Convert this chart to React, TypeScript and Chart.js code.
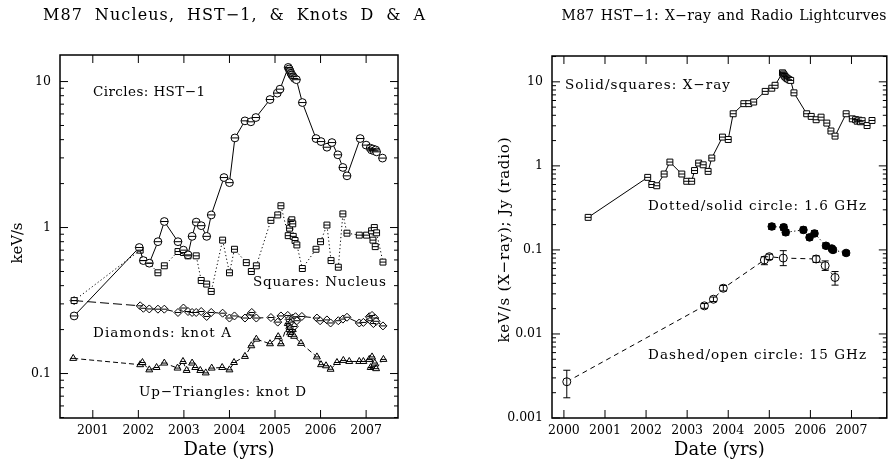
import React, { useEffect, useRef } from "react";
import { Chart, registerables } from "chart.js";

Chart.register(...registerables);

const FONT = "'DejaVu Serif', serif";

// ---------------- Left panel data ----------------
const hstYears = [2000.59, 2002.02, 2002.11, 2002.24, 2002.43, 2002.57, 2002.87, 2002.99, 2003.09, 2003.18, 2003.27, 2003.38, 2003.5, 2003.6, 2003.88, 2004.0, 2004.12, 2004.34, 2004.47, 2004.58, 2004.89, 2005.05, 2005.11, 2005.29, 2005.31, 2005.33, 2005.35, 2005.37, 2005.4, 2005.43, 2005.47, 2005.6, 2005.9, 2006.01, 2006.14, 2006.25, 2006.38, 2006.49, 2006.58, 2006.87, 2007.0, 2007.09, 2007.12, 2007.15, 2007.18, 2007.21, 2007.23, 2007.36];
const hstFlux = [0.248, 0.73, 0.594, 0.57, 0.8, 1.1, 0.8, 0.7, 0.65, 0.87, 1.09, 1.03, 0.87, 1.22, 2.2, 2.03, 4.11, 5.38, 5.3, 5.67, 7.53, 8.33, 8.87, 12.5, 12.2, 11.8, 11.4, 11.1, 10.8, 10.5, 10.3, 7.18, 4.07, 3.88, 3.55, 3.82, 3.15, 2.58, 2.26, 4.07, 3.67, 3.5, 3.4, 3.45, 3.35, 3.4, 3.3, 2.99];

const nucYears = [2000.59, 2002.04, 2002.11, 2002.24, 2002.43, 2002.57, 2002.87, 2002.99, 2003.09, 2003.27, 2003.38, 2003.5, 2003.6, 2003.85, 2004.0, 2004.11, 2004.37, 2004.48, 2004.59, 2004.91, 2005.06, 2005.13, 2005.29, 2005.32, 2005.35, 2005.37, 2005.39, 2005.4, 2005.44, 2005.48, 2005.6, 2005.9, 2006.0, 2006.14, 2006.23, 2006.39, 2006.49, 2006.58, 2006.85, 2007.01, 2007.12, 2007.15, 2007.18, 2007.2, 2007.23, 2007.37];
const nucFlux = [0.316, 0.7, 0.594, 0.57, 0.49, 0.547, 0.685, 0.674, 0.64, 0.64, 0.434, 0.41, 0.365, 0.82, 0.49, 0.71, 0.575, 0.5, 0.547, 1.12, 1.22, 1.41, 0.88, 0.99, 1.1, 1.13, 1.06, 0.87, 0.815, 0.76, 0.524, 0.71, 0.8, 1.04, 0.594, 0.535, 1.24, 0.915, 0.887, 0.887, 0.95, 0.82, 1.0, 0.74, 0.92, 0.58];

const knotAYears = [2000.59, 2002.04, 2002.11, 2002.24, 2002.43, 2002.57, 2002.87, 2002.99, 2003.09, 2003.18, 2003.27, 2003.38, 2003.5, 2003.6, 2003.85, 2004.0, 2004.11, 2004.34, 2004.45, 2004.49, 2004.59, 2004.91, 2005.06, 2005.13, 2005.28, 2005.31, 2005.33, 2005.35, 2005.37, 2005.39, 2005.42, 2005.45, 2005.48, 2005.59, 2005.92, 2005.99, 2006.14, 2006.22, 2006.39, 2006.49, 2006.58, 2006.85, 2006.94, 2007.07, 2007.1, 2007.13, 2007.16, 2007.19, 2007.22, 2007.37];
const knotAFlux = [0.316, 0.291, 0.28, 0.277, 0.276, 0.276, 0.262, 0.281, 0.266, 0.262, 0.262, 0.266, 0.246, 0.262, 0.259, 0.24, 0.248, 0.24, 0.252, 0.262, 0.24, 0.242, 0.225, 0.248, 0.25, 0.235, 0.215, 0.205, 0.225, 0.24, 0.21, 0.245, 0.23, 0.246, 0.24, 0.23, 0.233, 0.222, 0.23, 0.236, 0.243, 0.222, 0.224, 0.245, 0.23, 0.25, 0.22, 0.24, 0.228, 0.212];

const knotDYears = [2000.57, 2002.04, 2002.09, 2002.24, 2002.4, 2002.57, 2002.86, 2002.98, 2003.06, 2003.18, 2003.25, 2003.36, 2003.48, 2003.61, 2003.84, 2004.0, 2004.1, 2004.34, 2004.48, 2004.59, 2004.89, 2005.07, 2005.13, 2005.28, 2005.31, 2005.33, 2005.36, 2005.39, 2005.42, 2005.57, 2005.92, 2006.01, 2006.12, 2006.22, 2006.36, 2006.5, 2006.63, 2006.85, 2006.94, 2007.07, 2007.1, 2007.13, 2007.16, 2007.19, 2007.22, 2007.38];
const knotDFlux = [0.127, 0.115, 0.119, 0.106, 0.11, 0.118, 0.109, 0.121, 0.105, 0.118, 0.11, 0.105, 0.101, 0.109, 0.11, 0.106, 0.119, 0.131, 0.155, 0.172, 0.16, 0.179, 0.16, 0.22, 0.2, 0.19, 0.185, 0.2, 0.18, 0.161, 0.13, 0.115, 0.113, 0.107, 0.119, 0.123, 0.121, 0.121, 0.121, 0.125, 0.11, 0.13, 0.112, 0.118, 0.108, 0.125];

const leftYearTicks = [2001, 2002, 2003, 2004, 2005, 2006, 2007];
const leftDecadeTicks = [0.1, 1, 10];

// ---------------- Right panel data ----------------
const xrayYears = [2000.59, 2002.04, 2002.14, 2002.26, 2002.44, 2002.58, 2002.87, 2002.99, 2003.11, 2003.18, 2003.28, 2003.39, 2003.51, 2003.6, 2003.86, 2004.0, 2004.12, 2004.38, 2004.5, 2004.62, 2004.9, 2005.06, 2005.14, 2005.32, 2005.34, 2005.36, 2005.38, 2005.41, 2005.44, 2005.48, 2005.52, 2005.6, 2005.91, 2006.02, 2006.14, 2006.26, 2006.4, 2006.5, 2006.6, 2006.87, 2007.02, 2007.1, 2007.14, 2007.18, 2007.22, 2007.26, 2007.38, 2007.5];
const xrayFlux = [0.244, 0.73, 0.6, 0.58, 0.8, 1.11, 0.8, 0.656, 0.656, 0.88, 1.08, 1.03, 0.86, 1.24, 2.2, 2.06, 4.17, 5.5, 5.5, 5.75, 7.7, 8.4, 9.1, 12.8, 12.4, 12.0, 11.6, 11.2, 10.9, 10.6, 10.4, 7.4, 4.17, 3.88, 3.54, 3.8, 3.23, 2.6, 2.26, 4.17, 3.63, 3.55, 3.4, 3.5, 3.35, 3.45, 3.02, 3.47];

const r16Years = [2005.06, 2005.35, 2005.4, 2005.83, 2005.98, 2006.1, 2006.38, 2006.52, 2006.55, 2006.87];
const r16Flux = [0.19, 0.186, 0.162, 0.173, 0.141, 0.157, 0.112, 0.104, 0.1, 0.092];
const r16Low = [0.175, 0.171, 0.15, 0.16, 0.131, 0.145, 0.104, 0.097, 0.093, 0.086];
const r16High = [0.205, 0.201, 0.175, 0.187, 0.152, 0.17, 0.12, 0.111, 0.107, 0.098];

const r15Years = [2000.07, 2003.42, 2003.64, 2003.88, 2004.88, 2005.0, 2005.34, 2006.14, 2006.36, 2006.6];
const r15Flux = [0.0027, 0.0216, 0.0259, 0.035, 0.0759, 0.083, 0.08, 0.078, 0.065, 0.047];
const r15Low = [0.00174, 0.0202, 0.0243, 0.0325, 0.0667, 0.077, 0.065, 0.071, 0.057, 0.0381];
const r15High = [0.0037, 0.023, 0.0275, 0.0378, 0.083, 0.089, 0.098, 0.085, 0.074, 0.0553];

const rightYearTicks = [2000, 2001, 2002, 2003, 2004, 2005, 2006, 2007];
const rightDecadeTicks = [0.001, 0.01, 0.1, 1, 10];

// ---------------- helpers ----------------
const pts = (xs: number[], ys: number[]) => xs.map((x, i) => ({ x, y: ys[i] }));

type TextItem = {
  text: string; x: number; y: number; size: number; width: number;
  ls?: number; words?: boolean; align?: "left" | "center"; rotate?: boolean;
};

function drawSpaced(ctx: CanvasRenderingContext2D, t: TextItem) {
  ctx.save();
  ctx.font = `${t.size}px ${FONT}`;
  ctx.fillStyle = "#000";
  ctx.textBaseline = "middle";
  ctx.textAlign = "left";
  const anyCtx = ctx as any;
  const natural = ctx.measureText(t.text).width;
  const n = t.text.length;
  const spaces = (t.text.match(/ /g) || []).length;
  let total = natural;
  if ("letterSpacing" in anyCtx && n > 1) {
    if (t.words && spaces > 0 && "wordSpacing" in anyCtx) {
      const ls = t.ls || 0;
      anyCtx.letterSpacing = `${ls}px`;
      const ws = (t.width - natural - ls * (n - 1)) / spaces;
      anyCtx.wordSpacing = `${ws}px`;
    } else {
      anyCtx.letterSpacing = `${(t.width - natural) / (n - 1)}px`;
    }
    total = t.width;
  }
  if (t.rotate) {
    ctx.translate(t.x, t.y);
    ctx.rotate(-Math.PI / 2);
    ctx.fillText(t.text, -total / 2, 0);
  } else {
    const x0 = t.align === "center" ? t.x - total / 2 : t.x;
    ctx.fillText(t.text, x0, t.y);
  }
  ctx.restore();
}

const framePlugin = {
  id: "frameTicks",
  afterDraw(chart: any) {
    const { ctx, chartArea: a, scales } = chart;
    const xs = scales.x;
    const ys = scales.y;
    ctx.save();
    ctx.strokeStyle = "#000";
    ctx.lineWidth = 1;
    ctx.beginPath();
    for (const t of xs.ticks) {
      const px = xs.getPixelForValue(t.value);
      ctx.moveTo(px, a.bottom);
      ctx.lineTo(px, a.bottom - 8);
      ctx.moveTo(px, a.top);
      ctx.lineTo(px, a.top + 8);
    }
    const lo = Math.floor(Math.log10(ys.min));
    const hi = Math.ceil(Math.log10(ys.max));
    for (let d = lo; d <= hi; d++) {
      for (let m = 1; m <= 9; m++) {
        const v = m * Math.pow(10, d);
        if (v < ys.min * 0.9999 || v > ys.max * 1.0001) continue;
        const py = ys.getPixelForValue(v);
        const len = m === 1 ? 8 : 4;
        ctx.moveTo(a.left, py);
        ctx.lineTo(a.left + len, py);
        ctx.moveTo(a.right, py);
        ctx.lineTo(a.right - len, py);
      }
    }
    ctx.stroke();
    ctx.lineWidth = 1.5;
    ctx.strokeRect(a.left, a.top, a.right - a.left, a.bottom - a.top);
    ctx.restore();
  },
};

const markPlugin = {
  id: "errMarks",
  afterDatasetsDraw(chart: any) {
    const ys = chart.scales.y;
    const ctx = chart.ctx;
    chart.data.datasets.forEach((ds: any, i: number) => {
      const meta = chart.getDatasetMeta(i);
      ctx.save();
      ctx.strokeStyle = "#000";
      ctx.lineWidth = 1;
      ctx.setLineDash([]);
      ctx.beginPath();
      meta.data.forEach((el: any, j: number) => {
        if (ds.midHalf) {
          ctx.moveTo(el.x - ds.midHalf, el.y);
          ctx.lineTo(el.x + ds.midHalf, el.y);
        }
        if (ds.errLow && ds.errHigh) {
          const y1 = ys.getPixelForValue(ds.errLow[j]);
          const y2 = ys.getPixelForValue(ds.errHigh[j]);
          const c = ds.capHalf || 3;
          ctx.moveTo(el.x, y1);
          ctx.lineTo(el.x, y2);
          ctx.moveTo(el.x - c, y1);
          ctx.lineTo(el.x + c, y1);
          ctx.moveTo(el.x - c, y2);
          ctx.lineTo(el.x + c, y2);
        }
      });
      ctx.stroke();
      ctx.restore();
    });
  },
};

const textPlugin = (items: TextItem[]) => ({
  id: "texts",
  afterDraw(chart: any) {
    items.forEach((t) => drawSpaced(chart.ctx, t));
  },
});

const leftTexts: TextItem[] = [
  { text: "M87 Nucleus, HST\u22121, & Knots D & A", x: 234, y: 16, size: 16, ls: 1.1, words: true, width: 382, align: "center" },
  { text: "Circles: HST\u22121", x: 93, y: 92, size: 13.5, width: 112 },
  { text: "Squares: Nucleus", x: 253, y: 282, size: 13.5, width: 133 },
  { text: "Diamonds: knot A", x: 93, y: 333, size: 13.5, width: 138 },
  { text: "Up\u2212Triangles: knot D", x: 139, y: 392, size: 13.5, width: 167 },
  { text: "keV/s", x: 18, y: 243, size: 15, width: 41, rotate: true },
];

const rightTexts: TextItem[] = [
  { text: "M87 HST\u22121: X\u2212ray and Radio Lightcurves", x: 278, y: 16, size: 14, ls: 0.3, words: true, width: 325, align: "center" },
  { text: "Solid/squares: X\u2212ray", x: 119, y: 85, size: 13.5, width: 165 },
  { text: "Dotted/solid circle: 1.6 GHz", x: 202, y: 206, size: 13.5, width: 218 },
  { text: "Dashed/open circle: 15 GHz", x: 202, y: 355, size: 13.5, width: 218 },
  { text: "keV/s (X\u2212ray); Jy (radio)", x: 59, y: 240, size: 15, width: 205, rotate: true },
];

function axisCommon(
  xMin: number, xMax: number, yMin: number, yMax: number,
  yearTicks: number[], decadeTicks: number[], yAxisWidth: number
) {
  return {
    x: {
      type: "linear",
      min: xMin,
      max: xMax,
      afterFit: (s: any) => { s.height = 44; },
      afterBuildTicks: (s: any) => { s.ticks = yearTicks.map((v) => ({ value: v })); },
      grid: { display: false, drawTicks: false },
      border: { display: false },
      ticks: {
        autoSkip: false,
        maxRotation: 0,
        padding: 5,
        color: "#000",
        font: { family: FONT, size: 12.5 },
        callback: (v: any) => String(v),
      },
      title: {
        display: true,
        text: "Date (yrs)",
        color: "#000",
        font: { family: FONT, size: 18 },
        padding: { top: 0, bottom: 1 },
      },
    },
    y: {
      type: "logarithmic",
      min: yMin,
      max: yMax,
      afterFit: (s: any) => { s.width = yAxisWidth; },
      afterBuildTicks: (s: any) => { s.ticks = decadeTicks.map((v) => ({ value: v, major: true })); },
      grid: { display: false, drawTicks: false },
      border: { display: false },
      ticks: {
        autoSkip: false,
        padding: 9,
        color: "#000",
        font: { family: FONT, size: 12.5 },
        callback: (v: any) => String(v),
      },
    },
  };
}

function baseOptions(pad: any, scales: any) {
  return {
    animation: false,
    responsive: false,
    devicePixelRatio: 1,
    layout: { padding: pad },
    plugins: { legend: { display: false }, tooltip: { enabled: false }, title: { display: false } },
    scales,
  };
}

function leftConfig(): any {
  return {
    type: "scatter",
    data: {
      datasets: [
        {
          data: pts(hstYears, hstFlux), showLine: true, borderColor: "#000", borderWidth: 1,
          pointStyle: "circle", pointRadius: 3.9, pointBackgroundColor: "#fff", pointBorderColor: "#000", pointBorderWidth: 1,
          midHalf: 3.9,
        },
        {
          data: pts(nucYears, nucFlux), showLine: true, borderColor: "#000", borderWidth: 1, borderDash: [1.2, 2.5],
          pointStyle: "rect", pointRadius: 4.2, pointBackgroundColor: "#fff", pointBorderColor: "#000", pointBorderWidth: 1,
          midHalf: 3,
        },
        {
          data: pts(knotAYears, knotAFlux), showLine: true, borderColor: "#000", borderWidth: 1, borderDash: [9, 4],
          pointStyle: "rectRot", pointRadius: 4, pointBackgroundColor: "#fff", pointBorderColor: "#000", pointBorderWidth: 1,
          midHalf: 3,
        },
        {
          data: pts(knotDYears, knotDFlux), showLine: true, borderColor: "#000", borderWidth: 1, borderDash: [5, 3],
          pointStyle: "triangle", pointRadius: 4, pointBackgroundColor: "#fff", pointBorderColor: "#000", pointBorderWidth: 1,
          midHalf: 3,
        },
      ],
    },
    options: baseOptions(
      { left: 0, top: 55, right: 48, bottom: 0 },
      axisCommon(2000.28, 2007.7, 0.0496, 15.2, leftYearTicks, leftDecadeTicks, 60)
    ),
    plugins: [framePlugin, markPlugin, textPlugin(leftTexts)],
  };
}

function rightConfig(): any {
  return {
    type: "scatter",
    data: {
      datasets: [
        {
          data: pts(xrayYears, xrayFlux), showLine: true, borderColor: "#000", borderWidth: 1,
          pointStyle: "rect", pointRadius: 4.2, pointBackgroundColor: "#fff", pointBorderColor: "#000", pointBorderWidth: 1,
          midHalf: 3,
        },
        {
          data: pts(r16Years, r16Flux), showLine: true, borderColor: "#000", borderWidth: 1, borderDash: [1.2, 2.5],
          pointStyle: "circle", pointRadius: 3.8, pointBackgroundColor: "#000", pointBorderColor: "#000", pointBorderWidth: 1,
          errLow: r16Low, errHigh: r16High, capHalf: 3.5,
        },
        {
          data: pts(r15Years, r15Flux), showLine: true, borderColor: "#000", borderWidth: 1, borderDash: [5, 4],
          pointStyle: "circle", pointRadius: 4, pointBackgroundColor: "#fff", pointBorderColor: "#000", pointBorderWidth: 1,
          errLow: r15Low, errHigh: r15High, capHalf: 3.5,
        },
      ],
    },
    options: baseOptions(
      { left: 0, top: 56, right: 1, bottom: 0 },
      axisCommon(1999.71, 2007.86, 0.001, 20.3, rightYearTicks, rightDecadeTicks, 106)
    ),
    plugins: [framePlugin, markPlugin, textPlugin(rightTexts)],
  };
}

export default function App() {
  const leftRef = useRef<HTMLCanvasElement>(null);
  const rightRef = useRef<HTMLCanvasElement>(null);

  useEffect(() => {
    const c1 = new Chart(leftRef.current as HTMLCanvasElement, leftConfig());
    const c2 = new Chart(rightRef.current as HTMLCanvasElement, rightConfig());
    return () => {
      c1.destroy();
      c2.destroy();
    };
  }, []);

  return (
    <div style={{ position: "fixed", left: 0, top: 0, width: 892, height: 462, background: "#fff" }}>
      <div style={{ position: "absolute", left: 0, top: 0, width: 446, height: 462 }}>
        <canvas ref={leftRef} width={446} height={462} style={{ width: 446, height: 462, display: "block" }} />
      </div>
      <div style={{ position: "absolute", left: 446, top: 0, width: 446, height: 462 }}>
        <canvas ref={rightRef} width={446} height={462} style={{ width: 446, height: 462, display: "block" }} />
      </div>
    </div>
  );
}
